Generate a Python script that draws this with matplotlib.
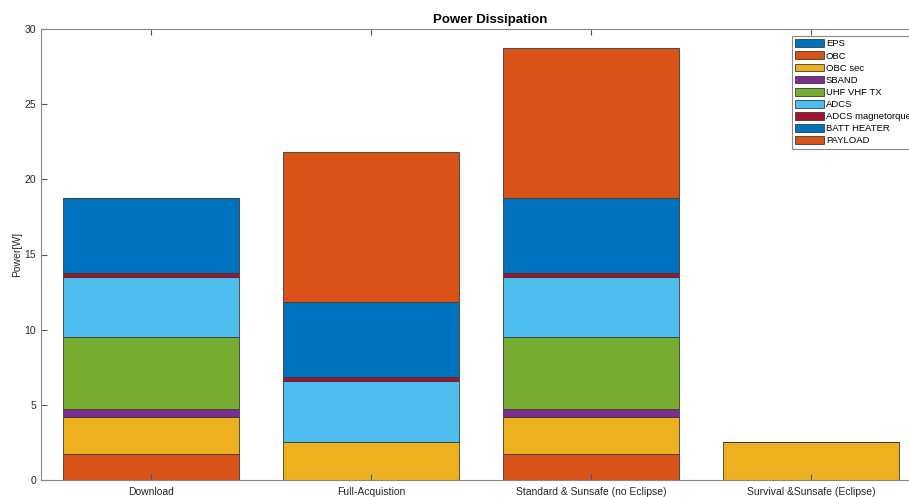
import matplotlib.pyplot as plt
import numpy as np

plt.rcParams['font.family'] = ['Liberation Sans', 'DejaVu Sans']

modes = ['Download', 'Full-Acquistion', 'Standard & Sunsafe (no Eclipse)', 'Survival &Sunsafe (Eclipse)']
subsystems = ['EPS', 'OBC', 'OBC sec', 'SBAND', 'UHF VHF TX', 'ADCS',
              'ADCS magnetorquer', 'BATT HEATER', 'PAYLOAD']

# power per subsystem, one value per mode (W)
eps = [0.0, 0.0, 0.0, 0.0]
obc = [1.7, 0.0, 1.7, 0.0]
obc_sec = [2.5, 2.55, 2.5, 2.55]
sband = [0.5, 0.0, 0.5, 0.0]
uhf_vhf_tx = [4.8, 0.0, 4.8, 0.0]
adcs = [4.0, 4.05, 4.0, 0.0]
adcs_mtq = [0.25, 0.25, 0.25, 0.0]
batt_heater = [5.0, 5.0, 5.0, 0.0]
payload = [0.0, 10.0, 10.0, 0.0]

colors = ['#0072BD', '#D95319', '#EDB120', '#7E2F8E', '#77AC30',
          '#4DBEEE', '#A2142F', '#0072BD', '#D95319']

series = [eps, obc, obc_sec, sband, uhf_vhf_tx, adcs, adcs_mtq, batt_heater, payload]

fig = plt.figure(figsize=(9.09, 4.97), dpi=100)
# axes runs off the right edge of the picture, like the cropped original
ax = fig.add_axes([41 / 909, 17 / 497, 880 / 909, 451 / 497])

x = np.arange(1, len(modes) + 1)
bottom = np.zeros(len(modes))
for vals, name, c in zip(series, subsystems, colors):
    vals = np.array(vals)
    ax.bar(x, vals, width=0.8, bottom=bottom, color=c, edgecolor='#3a3a3a',
           linewidth=0.6, label=name)
    bottom += vals

ax.set_xlim(0.5, 4.5)
ax.set_ylim(0, 30)
ax.set_xticks(x)
ax.set_xticklabels(modes)
ax.set_yticks(range(0, 31, 5))
ax.tick_params(direction='in', length=4, labelsize=7.5, colors='#555555',
               labelcolor='#262626', top=True, right=True)
ax.tick_params(axis='x', pad=5)
for s in ax.spines.values():
    s.set_color('#888888')
    s.set_linewidth(0.8)

ax.set_ylabel('Power[W]', fontsize=7.5, color='#262626')
ax.yaxis.set_label_coords(-0.021, 0.5)
ax.set_title('Power Dissipation', fontsize=9.5, fontweight='bold', pad=4,
             x=(490 - 41) / 880)

leg = fig.legend(loc='upper left', bbox_to_anchor=(792 / 909, 1 - 36 / 497),
                 fontsize=6.8, handlelength=3.0, handleheight=0.9,
                 handletextpad=0.25, labelspacing=0.31, borderpad=0.35,
                 borderaxespad=0, fancybox=False, framealpha=1)
leg.get_frame().set_edgecolor('#888888')
leg.get_frame().set_linewidth(0.8)

fig.savefig('out.png', dpi=100)
